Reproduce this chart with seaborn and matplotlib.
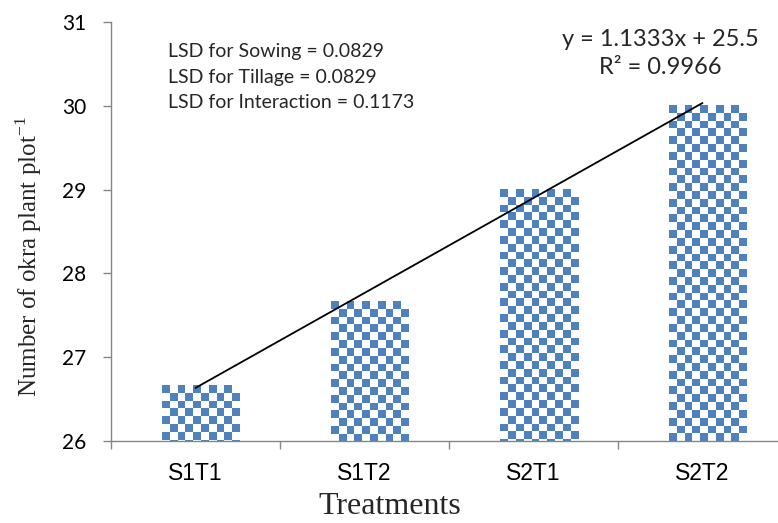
import numpy as np
import pandas as pd
import matplotlib
matplotlib.use("Agg")
import matplotlib.pyplot as plt
import matplotlib.patheffects as pe
from matplotlib.colors import ListedColormap
import seaborn as sns

# ---- data ----
treatments = ["S1T1", "S1T2", "S2T1", "S2T2"]
plants = [26.6667, 27.6667, 29.0, 30.0]
y_ticks = [26, 27, 28, 29, 30, 31]
lsd_lines = [
    "LSD for Sowing = 0.0829",
    "LSD for Tillage = 0.0829",
    "LSD for Interaction = 0.1173",
]
x_title = "Treatments"
y_title = r"Number of okra plant plot$^{\mathregular{-1}}$"

# ---- style ----
sns.set_theme(style="white")
plt.rcParams["font.family"] = ["Lato", "DejaVu Sans"]
plt.rcParams["mathtext.fontset"] = "custom"
plt.rcParams["mathtext.rm"] = "Liberation Serif"

BLUE = "#4F81BD"
GREY = "#868686"
W, H = 778, 523

fig = plt.figure(figsize=(W / 100, H / 100), dpi=100)
ax_left, ax_top, ax_right, ax_bottom = 111, 22, 787, 441
ax = fig.add_axes([ax_left / W, (H - ax_bottom) / H,
                   (ax_right - ax_left) / W, (ax_bottom - ax_top) / H])

df = pd.DataFrame({"Treatment": treatments, "Plants": plants})
sns.barplot(data=df, x="Treatment", y="Plants", color=BLUE, saturation=1,
            width=0.4, ax=ax, zorder=2)

ax.set_xlim(-0.5, len(treatments) - 0.5)
ax.set_ylim(y_ticks[0], y_ticks[-1])

# checkerboard fill, clipped to each bar and to the plot area
cell = 7.8  # px
px_w = ax_right - ax_left
px_h = ax_bottom - ax_top
x0, x1 = ax.get_xlim()
y0, y1 = ax.get_ylim()
dx = (x1 - x0) / px_w
dy = (y1 - y0) / px_h
cmap = ListedColormap([BLUE, "white"])
for bar in list(ax.patches):
    bx = bar.get_x()
    top = bar.get_height()
    ncol = int(np.ceil(bar.get_width() / dx / cell)) + 1
    nrow = int(np.ceil((top - y0) / dy / cell)) + 1
    checker = (np.add.outer(np.arange(nrow), np.arange(ncol)) % 2).astype(float)
    extent = (bx, bx + ncol * cell * dx, top - nrow * cell * dy, top)
    im = ax.imshow(checker, cmap=cmap, extent=extent, origin="upper",
                   interpolation="nearest", aspect="auto", zorder=2.5)
    im.set_clip_path(bar)
    im.set_clip_box(ax.bbox)
    bar.set_path_effects([
        pe.SimplePatchShadow(offset=(1.5, -1.5), shadow_rgbFace="#808080", alpha=0.35),
        pe.Normal(),
    ])
ax.set_xlim(x0, x1)
ax.set_ylim(y0, y1)

# linear trend through the bar values
xs = np.arange(1, len(plants) + 1)
slope, intercept = np.polyfit(xs, plants, 1)
fitted = slope * xs + intercept
r2 = 1 - np.sum((np.array(plants) - fitted) ** 2) / np.sum((np.array(plants) - np.mean(plants)) ** 2)
ax.plot(np.arange(len(plants)), fitted, color="black", lw=1.3, zorder=3)

# axes styling
for side in ("top", "right"):
    ax.spines[side].set_visible(False)
for side in ("left", "bottom"):
    ax.spines[side].set_color(GREY)
    ax.spines[side].set_linewidth(1.0)
    ax.spines[side].set_zorder(4)
ax.set_yticks(y_ticks)
ax.tick_params(axis="y", direction="out", length=5.8, width=1.0, color=GREY,
               labelsize=15, pad=12, left=True, labelcolor="black")
ax.set_xticks(range(len(treatments)))
ax.set_xticklabels(treatments, family=["Liberation Sans Narrow", "Liberation Sans"],
                   fontsize=16.5)
ax.tick_params(axis="x", which="major", length=0, pad=15, labelcolor="black")
ax.set_xticks(np.arange(-0.5, len(treatments)), minor=True)
ax.tick_params(axis="x", which="minor", direction="out", length=5.8, width=1.0,
               color=GREY, bottom=True)
ax.set_xlabel("")
ax.set_ylabel("")
ax.grid(False)

# axis titles
fig.text(29 / W, 1 - 257 / H, y_title, rotation=90, ha="center", va="center",
         family="Liberation Serif", fontsize=18)
fig.text(390 / W, 1 - 506 / H, x_title, ha="center", va="center",
         family="Liberation Serif", fontsize=23)

# LSD notes
for i, line in enumerate(lsd_lines):
    fig.text(168 / W, 1 - (52 + 25 * i) / H, line, ha="left", va="center", fontsize=14)

# trend equation
fig.text(660 / W, 1 - 40 / H, f"y = {slope:.5g}x + {intercept:.5g}",
         ha="center", va="center", fontsize=17)
fig.text(660 / W, 1 - 68 / H, f"R² = {r2:.4f}", ha="center", va="center", fontsize=17)

fig.savefig("out.png", dpi=100)
